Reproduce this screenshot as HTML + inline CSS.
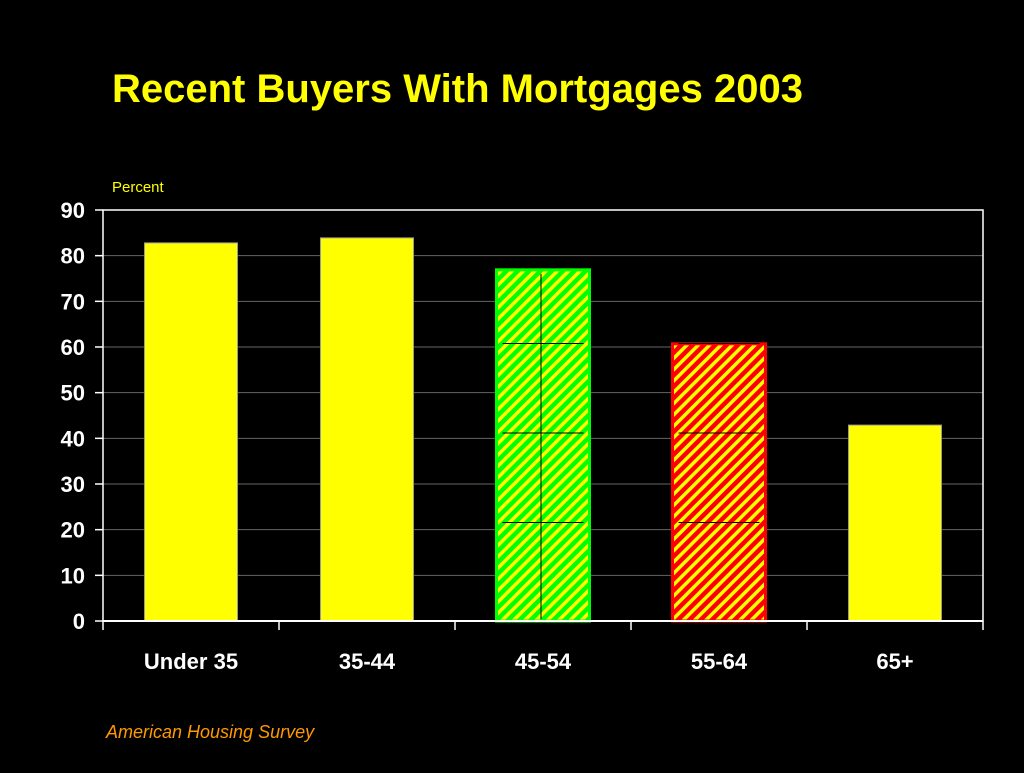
<!DOCTYPE html>
<html><head><meta charset="utf-8"><style>
body{margin:0;background:#000;width:1024px;height:768px;overflow:hidden;font-family:"Liberation Sans",sans-serif}
</style></head><body>
<svg width="1024" height="768">
<defs>
<pattern id="pg" width="8" height="8" patternUnits="userSpaceOnUse" patternTransform="rotate(45)">
<rect width="8" height="8" fill="#00ff00"/><rect width="3.5" height="8" fill="#ffff00"/></pattern>
<pattern id="pr" width="8" height="8" patternUnits="userSpaceOnUse" patternTransform="rotate(45)">
<rect width="8" height="8" fill="#ff0000"/><rect width="3.5" height="8" fill="#ffff00"/></pattern>
</defs>
<text x="112" y="102" fill="#ffff00" font-size="40" font-weight="bold">Recent Buyers With Mortgages 2003</text>
<text x="112" y="192" fill="#ffff00" font-size="15">Percent</text>
<text x="106" y="738" fill="#ff9900" font-size="18" font-style="italic">American Housing Survey</text>
<g id="g"></g>
</svg>
<script>
const categories=["Under 35","35-44","45-54","55-64","65+"];
const values=[82.8,83.9,76.9,60.7,42.9];
const yTicks=[0,10,20,30,40,50,60,70,80,90];
const fills=["#ffff00","#ffff00","url(#pg)","url(#pr)","#ffff00"];
const strokes=["#999","#999","#00ff00","#ff0000","#999"];
const x0=103,x1=983,y0=621,y1=210,yMax=90;
const y=v=>y0-(v/yMax)*(y0-y1);
const step=(x1-x0)/categories.length;
const g=document.getElementById('g');
const NS="http://www.w3.org/2000/svg";
function mk(t,a){const e=document.createElementNS(NS,t);for(const k in a)e.setAttribute(k,a[k]);g.appendChild(e);return e;}
yTicks.forEach(t=>{
 if(t>0&&t<90){const l=mk('line',{x1:x0,x2:x1,y1:y(t),y2:y(t),stroke:'#666','stroke-width':1});
 
 }
 const tk=mk('line',{x1:x0-8,x2:x0,y1:y(t),y2:y(t),stroke:'#fff','stroke-width':1.5});
 
 
 const tx=mk('text',{x:x0-18,y:y(t)+8,fill:'#fff','font-size':22,'font-weight':'bold','text-anchor':'end'});
 tx.textContent=t;
 
 
});
const fr=mk('rect',{x:x0,y:y1,width:x1-x0,height:y0-y1,fill:'none',stroke:'#fff','stroke-width':1.5});


categories.forEach((c,i)=>{
 const cx=x0+step*(i+0.5),w=93;
 const b=mk('rect',{x:cx-w/2,y:y(values[i]),width:w,height:y0-y(values[i]),fill:fills[i],stroke:strokes[i],'stroke-width':i==2||i==3?3:1});
 
 
 if(i==2||i==3){
  [20,40,60].forEach(v=>{if(v<values[i]){const l=mk('line',{x1:cx-w/2+6,x2:cx+w/2-6,y1:y(v*0.98)-9,y2:y(v*0.98)-9,stroke:'#000','stroke-width':1});
  
  }});
  if(i==2){const l=mk('line',{x1:cx-2,x2:cx-2,y1:y(values[i])+4,y2:y0-2,stroke:'#000','stroke-width':1});
  
  }
 }
 const tx=mk('text',{x:cx,y:669,fill:'#fff','font-size':22,'font-weight':'bold','text-anchor':'middle'});
 tx.textContent=c;
 
 
});
for(let i=0;i<=categories.length;i++){
 const xx=x0+step*i;
 const t=mk('line',{x1:xx,x2:xx,y1:y0,y2:y0+9,stroke:'#fff','stroke-width':1.5});
 
 
}
const ax=mk('line',{x1:x0,x2:x1,y1:y0,y2:y0,stroke:'#fff','stroke-width':2});


</script>
</body></html>
